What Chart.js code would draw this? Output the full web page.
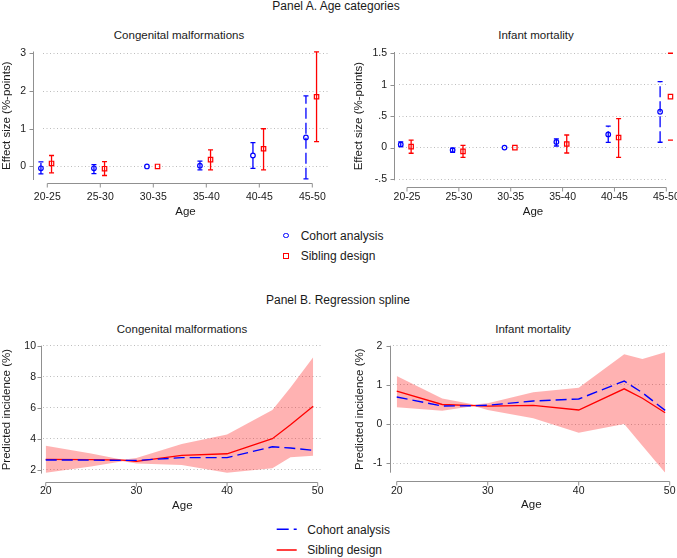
<!DOCTYPE html>
<html>
<head>
<meta charset="utf-8">
<script src="https://cdn.jsdelivr.net/npm/chart.js@4.4.0/dist/chart.umd.min.js"></script>
<style>
body { margin: 0; background: #fff; }
#wrap { position: relative; width: 677px; height: 558px; font-family: 'Liberation Sans', Arial, sans-serif; color: #1a1a1a; overflow: hidden; }
canvas { position: absolute; }
.t { position: absolute; white-space: nowrap; text-align: center; }
.main { font-size: 12px; line-height: 12px; width: 300px; }
.sub { font-size: 11.5px; line-height: 12px; width: 200px; }
.leg { position: absolute; font-size: 12px; line-height: 12px; white-space: nowrap; }
.mk { position: absolute; box-sizing: border-box; }
</style>
</head>
<body>
<div id="wrap">
  <div class="t main" style="left:186px; top:0px">Panel A. Age categories</div>
  <div class="t sub" style="left:79px; top:29px">Congenital malformations</div>
  <div class="t sub" style="left:436px; top:29px">Infant mortality</div>
  <canvas id="cmA" width="338" height="185" style="left:0; top:40px"></canvas>
  <canvas id="imA" width="339" height="185" style="left:338px; top:40px"></canvas>

  <div class="mk" style="left:283px; top:232.5px; width:5.5px; height:5.5px; border:1.3px solid #0000ff; border-radius:50%"></div>
  <div class="leg" style="left:300.7px; top:229.6px">Cohort analysis</div>
  <div class="mk" style="left:283px; top:253px; width:5.5px; height:5.5px; border:1.3px solid #ff0000"></div>
  <div class="leg" style="left:300.7px; top:249.6px">Sibling design</div>

  <div class="t main" style="left:188px; top:294px">Panel B. Regression spline</div>
  <div class="t sub" style="left:82px; top:323px">Congenital malformations</div>
  <div class="t sub" style="left:433px; top:323px">Infant mortality</div>
  <canvas id="cmB" width="338" height="190" style="left:0; top:330px"></canvas>
  <canvas id="imB" width="339" height="190" style="left:338px; top:330px"></canvas>

  <svg style="position:absolute; left:270px; top:520px" width="40" height="40">
    <line x1="6.7" y1="9.3" x2="26.7" y2="9.3" stroke="#0000ff" stroke-width="1.5" stroke-dasharray="12 5"></line>
    <line x1="6.7" y1="30" x2="26.7" y2="30" stroke="#ff0000" stroke-width="1.5"></line>
  </svg>
  <div class="leg" style="left:307.3px; top:523.6px">Cohort analysis</div>
  <div class="leg" style="left:307.3px; top:543.9px">Sibling design</div>
</div>

<script>
// ---- data ----
const ageGroups = ['20-25', '25-30', '30-35', '35-40', '40-45', '45-50'];

// Panel A, congenital malformations (effect size, %-points)
const cohortCM   = [-0.05, -0.05, 0, 0.02, 0.29, 0.77];
const cohortCMLo = [-0.20, -0.19, null, -0.09, -0.05, -0.33];
const cohortCMHi = [0.12, 0.05, null, 0.14, 0.63, 1.87];
const siblingCM   = [0.08, -0.06, 0, 0.18, 0.47, 1.85];
const siblingCMLo = [-0.17, -0.24, null, -0.09, -0.09, 0.66];
const siblingCMHi = [0.29, 0.13, null, 0.44, 1.00, 3.04];

// Panel A, infant mortality
const cohortIM   = [0.05, -0.04, 0, 0.09, 0.21, 0.57];
const cohortIMLo = [0.015, -0.075, null, 0.025, 0.084, 0.085];
const cohortIMHi = [0.09, -0.01, null, 0.14, 0.34, 1.05];
const siblingIM   = [0.015, -0.06, 0, 0.057, 0.16, 0.81];
const siblingIMLo = [-0.09, -0.155, null, -0.086, -0.155, 0.12];
const siblingIMHi = [0.12, 0.035, null, 0.20, 0.46, 1.50];

// Panel B, predicted incidence (%) by mother's age
const splineAges = [20, 25, 28.5, 30, 35, 40, 45, 47, 49.5];
const cohortSplineCM  = [2.63, 2.62, 2.60, 2.60, 2.78, 2.78, 3.48, 3.40, 3.25];
const siblingSplineCM = [2.67, 2.65, 2.62, 2.54, 2.93, 3.03, 4.00, 4.90, 6.10];
const siblingCMUpper  = [3.55, 3.05, 2.65, 2.75, 3.66, 4.28, 5.85, 7.30, 9.25];
const siblingCMLower  = [1.80, 2.20, 2.55, 2.40, 2.30, 1.80, 2.10, 2.80, 2.90];

const cohortSplineIM  = [0.69, 0.46, 0.47, 0.48, 0.59, 0.64, 1.10, 0.80, 0.35];
const siblingSplineIM = [0.84, 0.50, 0.47, 0.46, 0.48, 0.36, 0.90, 0.66, 0.29];
const siblingIMUpper  = [1.23, 0.65, 0.50, 0.53, 0.81, 0.93, 1.78, 1.66, 1.83];
const siblingIMLower  = [0.43, 0.34, 0.46, 0.36, 0.15, -0.22, 0.00, -0.55, -1.24];

// tick values
const groupTicks = [1, 2, 3, 4, 5, 6];
const cmTicks = [0, 1, 2, 3];
const imTicks = [-0.5, 0, 0.5, 1, 1.5];
const ageTicks = [20, 30, 40, 50];
const splineCMTicks = [2, 4, 6, 8, 10];
const splineIMTicks = [-1, 0, 1, 2];

const BLUE = '#0000ff';
const RED = '#ff0000';
const BAND = 'rgba(255, 0, 0, 0.3)';

Chart.defaults.font.family = "'Liberation Sans', Arial, sans-serif";
Chart.defaults.color = '#1a1a1a';

// error bars: stems are cut at the plot's right edge, caps are not
const errorBars = {
    id: 'errorBars',
    beforeDatasetsDraw(chart) {
        const { ctx, chartArea, scales: { x, y } } = chart;
        chart.data.datasets.forEach(ds => {
            if (!ds.errLo) return;
            ds.data.forEach((p, i) => {
                const lo = ds.errLo[i], hi = ds.errHi[i];
                if (lo == null || hi == null) return;
                const px = x.getPixelForValue(p.x);
                const yLo = y.getPixelForValue(lo);
                const yHi = y.getPixelForValue(hi);
                ctx.save();
                ctx.strokeStyle = ds.borderColor;
                ctx.lineWidth = 1.3;
                ctx.save();
                ctx.beginPath();
                ctx.rect(0, 0, chartArea.right, chart.height);
                ctx.clip();
                ctx.setLineDash(ds.errDash || []);
                ctx.beginPath();
                ctx.moveTo(px, yLo);
                ctx.lineTo(px, yHi);
                ctx.stroke();
                ctx.restore();
                ctx.beginPath();
                ctx.moveTo(px - 2.5, yLo); ctx.lineTo(px + 2.5, yLo);
                ctx.moveTo(px - 2.5, yHi); ctx.lineTo(px + 2.5, yHi);
                ctx.stroke();
                ctx.restore();
            });
        });
    }
};

// stata-like axis lines, set a little apart from the plot region
const axisLines = {
    id: 'axisLines',
    afterDraw(chart, args, opts) {
        const { ctx, chartArea, scales: { x, y } } = chart;
        const ax = Math.round(chartArea.left - opts.gapY) + 0.5;
        const ay = Math.round(chartArea.bottom + opts.gapX) + 0.5;
        const xs = x.ticks.map(t => x.getPixelForValue(t.value));
        ctx.save();
        ctx.strokeStyle = '#909090';
        ctx.lineWidth = 1;
        ctx.beginPath();
        ctx.moveTo(ax, chartArea.top);
        ctx.lineTo(ax, chartArea.bottom);
        y.ticks.forEach(t => {
            const py = Math.round(y.getPixelForValue(t.value)) + 0.5;
            ctx.moveTo(ax - 4, py);
            ctx.lineTo(ax, py);
        });
        ctx.moveTo(xs[0], ay);
        ctx.lineTo(xs[xs.length - 1], ay);
        xs.forEach(px => {
            ctx.moveTo(px, ay);
            ctx.lineTo(px, ay + 4);
        });
        ctx.stroke();
        ctx.restore();
    }
};

function makeChart(id, type, c) {
    const ctx = document.getElementById(id).getContext('2d');
    return new Chart(ctx, {
        type: type,
        data: { datasets: c.datasets },
        options: {
            responsive: false,
            animation: false,
            devicePixelRatio: 1,
            events: [],
            layout: { padding: c.padding },
            plugins: {
                legend: { display: false },
                tooltip: { enabled: false },
                axisLines: c.gaps
            },
            scales: {
                x: {
                    type: 'linear',
                    min: c.xMin,
                    max: c.xMax,
                    afterBuildTicks: s => { s.ticks = c.xTicks.map(v => ({ value: v })); },
                    afterFit: s => { s.height = c.xHeight; s.paddingLeft = 0; s.paddingRight = 0; },
                    grid: { display: false, drawTicks: false },
                    border: { display: false },
                    ticks: { padding: c.xPad, font: { size: 10.5 }, maxRotation: 0, autoSkip: false, callback: c.xLabel },
                    title: { display: true, text: 'Age', font: { size: 11.5 }, padding: { top: 0, bottom: c.xTitlePad } }
                },
                y: {
                    type: 'linear',
                    min: c.yMin,
                    max: c.yMax,
                    afterBuildTicks: s => { s.ticks = c.yTicks.map(v => ({ value: v })); },
                    afterFit: s => { s.width = c.yWidth; s.paddingTop = 0; s.paddingBottom = 0; },
                    grid: { color: '#bdbdbd', lineWidth: 1, drawTicks: false },
                    border: { display: false, dash: [1, 2.5] },
                    ticks: { padding: c.yPad, font: { size: 10.5 }, callback: c.yLabel },
                    title: { display: true, text: c.yTitle, font: { size: 11.5 }, padding: { top: 0, bottom: 0 } }
                }
            }
        },
        plugins: [errorBars, axisLines]
    });
}

function pointSet(values, lo, hi, offset, color, style, radius, dash) {
    return {
        data: values.map((v, i) => ({ x: i + 1 + offset, y: v })),
        errLo: lo,
        errHi: hi,
        errDash: dash,
        borderColor: color,
        backgroundColor: 'transparent',
        pointStyle: style,
        pointRadius: radius,
        pointBorderWidth: 1.2,
        borderWidth: 1.2,
        clip: false
    };
}

function splineSets(cohort, sibling, upper, lower) {
    const pts = arr => splineAges.map((a, i) => ({ x: a, y: arr[i] }));
    return [
        { data: pts(cohort), borderColor: BLUE, borderWidth: 1.4, borderDash: [11, 5], pointRadius: 0, fill: false, tension: 0 },
        { data: pts(sibling), borderColor: RED, borderWidth: 1.3, pointRadius: 0, fill: false, tension: 0 },
        { data: pts(upper), borderColor: 'transparent', borderWidth: 0, pointRadius: 0, fill: '+1', backgroundColor: BAND, tension: 0 },
        { data: pts(lower), borderColor: 'transparent', borderWidth: 0, pointRadius: 0, fill: false, tension: 0 }
    ];
}

const groupLabel = v => ageGroups[v - 1];
const shortDecimal = v => String(v).replace('0.', '.');

makeChart('cmA', 'scatter', {
    datasets: [
        pointSet(cohortCM, cohortCMLo, cohortCMHi, -0.12, BLUE, 'circle', 2.3, [11, 4]),
        pointSet(siblingCM, siblingCMLo, siblingCMHi, 0.08, RED, 'rect', 3.1, [])
    ],
    padding: { left: 0, right: 10, top: 11.5, bottom: 0 },
    xMin: 0.919, xMax: 6.296, xTicks: groupTicks, xLabel: groupLabel, xHeight: 45, xPad: 10.7, xTitlePad: 5.8,
    yMin: -0.36, yMax: 3.05, yTicks: cmTicks, yWidth: 43, yPad: 17, yTitle: 'Effect size (%-points)',
    gaps: { gapX: 3, gapY: 9.7 }
});

makeChart('imA', 'scatter', {
    datasets: [
        pointSet(cohortIM, cohortIMLo, cohortIMHi, -0.12, BLUE, 'circle', 2.3, [11, 4]),
        pointSet(siblingIM, siblingIMLo, siblingIMHi, 0.08, RED, 'rect', 3.1, [])
    ],
    padding: { left: 14.2, right: 10, top: 12, bottom: 0 },
    xMin: 0.846, xMax: 6.013, xTicks: groupTicks, xLabel: groupLabel, xHeight: 44.7, xPad: 11, xTitlePad: 6.1,
    yMin: -0.52, yMax: 1.52, yTicks: imTicks, yLabel: shortDecimal, yWidth: 46.8, yPad: 12, yTitle: 'Effect size (%-points)',
    gaps: { gapX: 6.4, gapY: 5 }
});

makeChart('cmB', 'line', {
    datasets: splineSets(cohortSplineCM, siblingSplineCM, siblingCMUpper, siblingCMLower),
    padding: { left: 0, right: 16.3, top: 15.7, bottom: 0 },
    xMin: 19.7, xMax: 50.44, xTicks: ageTicks, xHeight: 46.4, xPad: 11.1, xTitlePad: 7.1,
    yMin: 1.75, yMax: 10, yTicks: splineCMTicks, yWidth: 43, yPad: 7, yTitle: 'Predicted incidence (%)',
    gaps: { gapX: 8, gapY: 2.3 }
});

makeChart('imB', 'line', {
    datasets: splineSets(cohortSplineIM, siblingSplineIM, siblingIMUpper, siblingIMLower),
    padding: { left: 14.5, right: 7.3, top: 15.7, bottom: 0 },
    xMin: 19.59, xMax: 50, xTicks: ageTicks, xHeight: 47.3, xPad: 11.7, xTitlePad: 7.8,
    yMin: -1.24, yMax: 2, yTicks: splineIMTicks, yWidth: 40.5, yPad: 10.7, yTitle: 'Predicted incidence (%)',
    gaps: { gapX: 8.3, gapY: 3.3 }
});
</script>
</body>
</html>
